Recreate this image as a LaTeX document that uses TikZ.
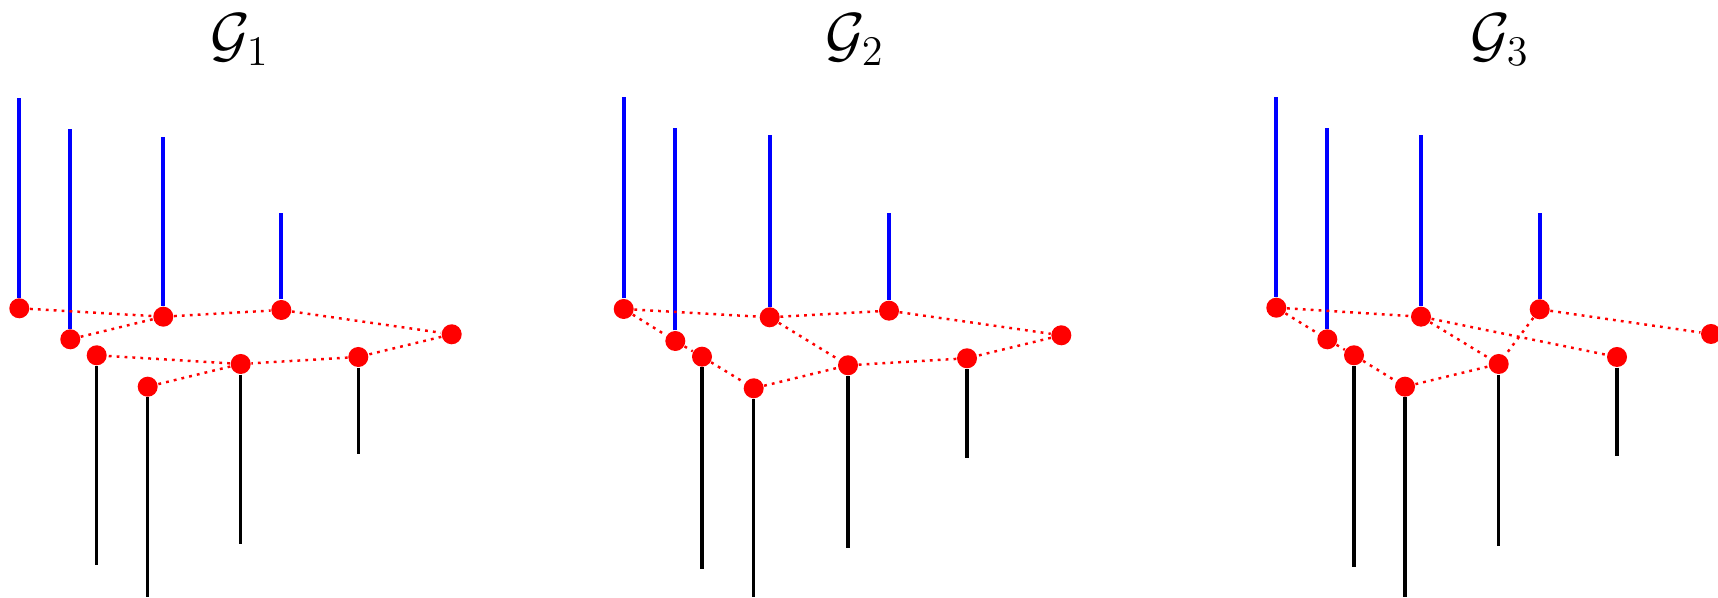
\documentclass[tikz,border=0pt]{standalone}
\begin{document}
\begin{tikzpicture}[x=0.01cm,y=-0.01cm,
  vtx/.style={circle,fill=red,draw=none,inner sep=0pt,minimum size=0.2cm},
  redge/.style={red,line width=0.7pt,dash pattern=on 0.8pt off 1.45pt},
  upl/.style={blue,line width=1.05pt},
  dnl/.style={black,line width=1.0pt},
  ttl/.style={anchor=base,inner sep=0pt,font=\fontsize{18}{22}\selectfont}]
\useasboundingbox (0,0) rectangle (1718,598);
% ---------- Panel 1 ----------
\node[ttl] (t1) at (240,56) {$\mathcal{G}_1$};
\node[vtx] (a1) at (19.3,308.3) {};
\node[vtx] (b1) at (70.3,339.3) {};
\node[vtx] (c1) at (163.3,316.7) {};
\node[vtx] (d1) at (281.3,310) {};
\node[vtx] (e1) at (451.7,334.3) {};
\node[vtx] (f1) at (96.7,355.3) {};
\node[vtx] (g1) at (240.7,364) {};
\node[vtx] (h1) at (358.3,357) {};
\node[vtx] (i1) at (147.7,386.7) {};
\coordinate (a1t) at (19.3,98.3);
\coordinate (b1t) at (70.3,129.3);
\coordinate (c1t) at (163.3,136.7);
\coordinate (d1t) at (281.3,213.3);
\coordinate (f1b) at (96.7,565);
\coordinate (g1b) at (240.7,544.3);
\coordinate (h1b) at (358.3,454.3);
\coordinate (i1b) at (147.7,596.7);
% ---------- Panel 2 ----------
\node[ttl] (t2) at (855,56) {$\mathcal{G}_2$};
\node[vtx] (a2) at (623.7,309) {};
\node[vtx] (b2) at (675.3,341) {};
\node[vtx] (c2) at (769.7,317.3) {};
\node[vtx] (d2) at (889,310.7) {};
\node[vtx] (e2) at (1061.3,335.3) {};
\node[vtx] (f2) at (702,356.7) {};
\node[vtx] (g2) at (848,365.3) {};
\node[vtx] (h2) at (967,358.3) {};
\node[vtx] (i2) at (753.7,388.3) {};
\coordinate (a2t) at (623.7,96.7);
\coordinate (b2t) at (675.3,128.3);
\coordinate (c2t) at (769.7,135);
\coordinate (d2t) at (889,213.3);
\coordinate (f2b) at (702,569.3);
\coordinate (g2b) at (848,548.3);
\coordinate (h2b) at (967,457.7);
\coordinate (i2b) at (753.7,597.3);
% ---------- Panel 3 ----------
\node[ttl] (t3) at (1500,56) {$\mathcal{G}_3$};
\node[vtx] (a3) at (1276.3,307.7) {};
\node[vtx] (b3) at (1327.3,339.3) {};
\node[vtx] (c3) at (1421,316.7) {};
\node[vtx] (d3) at (1539.7,309.3) {};
\node[vtx] (e3) at (1711,334) {};
\node[vtx] (f3) at (1354,355.3) {};
\node[vtx] (g3) at (1498.7,364) {};
\node[vtx] (h3) at (1617,357) {};
\node[vtx] (i3) at (1405,386.7) {};
\coordinate (a3t) at (1276.3,96.7);
\coordinate (b3t) at (1327.3,128.3);
\coordinate (c3t) at (1421,135.3);
\coordinate (d3t) at (1539.7,212.7);
\coordinate (f3b) at (1354,566.7);
\coordinate (g3b) at (1498.7,545.7);
\coordinate (h3b) at (1617,455.7);
\coordinate (i3b) at (1405,597.3);
% ---------- vertical lines ----------
\foreach \p in {1,2,3}{
  \draw[upl] (a\p) -- (a\p t);
  \draw[upl] (b\p) -- (b\p t);
  \draw[upl] (c\p) -- (c\p t);
  \draw[upl] (d\p) -- (d\p t);
  \draw[dnl] (f\p) -- (f\p b);
  \draw[dnl] (g\p) -- (g\p b);
  \draw[dnl] (h\p) -- (h\p b);
  \draw[dnl] (i\p) -- (i\p b);
}
% ---------- red dotted edges ----------
\draw[redge] (a1) -- (c1);
\draw[redge] (b1) -- (c1);
\draw[redge] (c1) -- (d1);
\draw[redge] (d1) -- (e1);
\draw[redge] (e1) -- (h1);
\draw[redge] (h1) -- (g1);
\draw[redge] (g1) -- (f1);
\draw[redge] (g1) -- (i1);
%
\draw[redge] (a2) -- (c2);
\draw[redge] (a2) -- (b2);
\draw[redge] (b2) -- (f2);
\draw[redge] (f2) -- (i2);
\draw[redge] (i2) -- (g2);
\draw[redge] (c2) -- (g2);
\draw[redge] (c2) -- (d2);
\draw[redge] (d2) -- (e2);
\draw[redge] (e2) -- (h2);
\draw[redge] (h2) -- (g2);
%
\draw[redge] (a3) -- (c3);
\draw[redge] (a3) -- (b3);
\draw[redge] (b3) -- (f3);
\draw[redge] (f3) -- (i3);
\draw[redge] (i3) -- (g3);
\draw[redge] (c3) -- (g3);
\draw[redge] (c3) -- (h3);
\draw[redge] (d3) -- (g3);
\draw[redge] (d3) -- (e3);
\end{tikzpicture}
\end{document}
